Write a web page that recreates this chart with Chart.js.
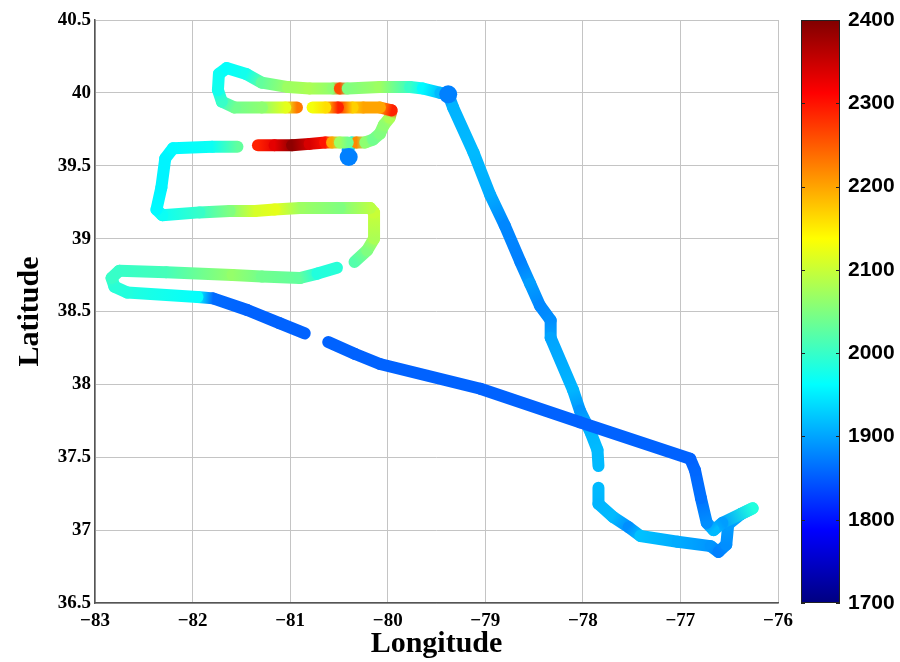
<!DOCTYPE html>
<html>
<head>
<meta charset="utf-8">
<title>Flight track</title>
<script src="https://cdn.jsdelivr.net/npm/chart.js@4.4.0/dist/chart.umd.min.js"></script>
<style>
  html, body { margin: 0; padding: 0; background: #fff; }
  #wrap { width: 900px; height: 662px; }
</style>
</head>
<body>
<div id="wrap"><canvas id="track"></canvas></div>
<script>
// flight track, one entry per waypoint, null = no data
var lon = [
  -80.40, -80.41, -80.37, -80.32, -80.23, -80.15, -80.08, -80.04, -79.98, -79.96,
  -80.08, -80.25, -80.36, -80.51, -80.64, -80.77, null,
  -80.93, -81.05, -81.29, -81.57, -81.70, -81.74, -81.73, -81.65, -81.45, -81.29,
  -81.02, -80.80, -80.56, -80.49, -80.41, -80.08, -79.77, -79.64, -79.46, -79.38,
  -79.33, -79.12, -78.95, -78.80, -78.64, -78.54, -78.44, -78.33, -78.33, -78.10,
  -78.03, -77.92, -77.85, -77.84, null,
  -77.84, -77.84, -77.69, -77.53, -77.41, -77.03, -76.69, -76.61, -76.53, -76.51,
  -76.38, -76.26, -76.57, -76.66, -76.73, -76.79, -76.85, -76.90, -78.03, -79.05,
  -80.08, -80.34, -80.61, null,
  -80.85, -81.11, -81.44, -81.79, -81.95, -82.67, -82.80, -82.83, -82.75, -82.27,
  -81.59, -81.29, -80.90, -80.72, -80.52, null,
  -80.34, -80.21, -80.14, -80.14, -80.18, -80.49, -80.90, -81.16, -81.36, -81.62,
  -81.93, -82.31, -82.37, -82.32, -82.28, -82.20, -81.80, -81.54, null,
  -81.33, -81.16, -80.98, -80.80, -80.64, -80.57, -80.49, -80.41
];
var lat = [
  39.56, 39.61, 39.66, 39.66, 39.66, 39.68, 39.72, 39.78, 39.83, 39.88,
  39.90, 39.90, 39.90, 39.90, 39.90, 39.90, null,
  39.90, 39.90, 39.90, 39.90, 39.94, 40.02, 40.13, 40.17, 40.13, 40.07,
  40.04, 40.03, 40.03, 40.03, 40.03, 40.04, 40.04, 40.03, 40.00, 39.99,
  39.90, 39.59, 39.30, 39.09, 38.84, 38.69, 38.54, 38.44, 38.32, 37.96,
  37.82, 37.67, 37.55, 37.44, null,
  37.29, 37.18, 37.09, 37.02, 36.96, 36.92, 36.89, 36.85, 36.90, 37.04,
  37.11, 37.15, 37.05, 37.00, 37.05, 37.22, 37.41, 37.49, 37.74, 37.97,
  38.14, 38.21, 38.29, null,
  38.35, 38.42, 38.51, 38.59, 38.60, 38.63, 38.67, 38.73, 38.78, 38.77,
  38.75, 38.74, 38.73, 38.76, 38.80, null,
  38.84, 38.92, 39.00, 39.18, 39.21, 39.21, 39.21, 39.20, 39.19, 39.19,
  39.18, 39.16, 39.20, 39.35, 39.55, 39.62, 39.63, 39.63, null,
  39.64, 39.64, 39.64, 39.65, 39.66, 39.66, 39.66, 39.66
];
var ch4 = [
  1880, 1890, 1990, 2220, 2060, 2040, 2050, 2060, 2080, 2290,
  2200, 2200, 2170, 2290, 2160, 2130, null,
  2230, 2120, 2060, 2040, 2000, 1975, 1970, 1965, 1975, 2030,
  2070, 2080, 2060, 2260, 2050, 2070, 2000, 1960, 1915, 1885,
  1910, 1915, 1905, 1880, 1875, 1895, 1880, 1885, 1900, 1912,
  1890, 1912, 1915, 1915, null,
  1915, 1912, 1915, 1885, 1920, 1905, 1890, 1875, 1885, 1895,
  1905, 1985, 1895, 1915, 1885, 1865, 1858, 1855, 1855, 1855,
  1855, 1855, 1855, null,
  1855, 1855, 1855, 1860, 1965, 1985, 1990, 2000, 2000, 2010,
  2065, 2040, 2030, 1985, 1990, null,
  2020, 2050, 2080, 2100, 2090, 2050, 2070, 2120, 2110, 2050,
  2000, 1970, 1960, 1955, 1955, 1960, 1970, 2030, null,
  2290, 2330, 2390, 2340, 2300, 2200, 2070, 2040
];

// large markers at the two ends of the track
var markLon = [-80.40, -79.38];
var markLat = [39.56, 39.99];
var markVal = [1875, 1875];

var lonTicks = [-83, -82, -81, -80, -79, -78, -77, -76];
var latTicks = [36.5, 37, 37.5, 38, 38.5, 39, 39.5, 40, 40.5];
var cbarTicks = [1700, 1800, 1900, 2000, 2100, 2200, 2300, 2400];
var cmin = 1700, cmax = 2400;

// matlab style jet colormap
function jet(v) {
  var t = (v - cmin) / (cmax - cmin);
  t = Math.max(0, Math.min(1, t));
  function c(k) {
    return Math.round(255 * Math.max(0, Math.min(1, 1.5 - Math.abs(4 * t - k))));
  }
  return 'rgb(' + c(3) + ',' + c(2) + ',' + c(1) + ')';
}

function segColor(ctx) {
  var a = ch4[ctx.p0DataIndex], b = ch4[ctx.p1DataIndex];
  var g = ctx.chart.ctx.createLinearGradient(ctx.p0.x, ctx.p0.y, ctx.p1.x + 0.01, ctx.p1.y);
  g.addColorStop(0, jet(a));
  g.addColorStop(1, jet(b));
  return g;
}

var trackData = lon.map(function(x, i) { return { x: x, y: lat[i] }; });
var markData = markLon.map(function(x, i) { return { x: x, y: markLat[i] }; });

var serif = 'Liberation Serif, Times New Roman, serif';

// colorbar drawn in the space of the 'cbar' axis
var colorbar = {
  id: 'colorbar',
  afterDraw: function(chart) {
    var s = chart.scales.cbar;
    var c = chart.ctx;
    var x0 = s.left + 23, w = 39;
    var top = s.top, bot = s.bottom;
    var g = c.createLinearGradient(0, bot, 0, top);
    [0, 1 / 8, 3 / 8, 5 / 8, 7 / 8, 1].forEach(function(f) {
      g.addColorStop(f, jet(cmin + f * (cmax - cmin)));
    });
    c.save();
    c.fillStyle = g;
    c.fillRect(x0, top, w, bot - top);
    c.strokeStyle = '#222';
    c.lineWidth = 1;
    c.strokeRect(x0 + 0.5, top + 0.5, w - 1, bot - top - 1);
    c.beginPath();
    cbarTicks.forEach(function(v) {
      var y = Math.round(s.getPixelForValue(v)) + 0.5;
      c.moveTo(x0, y); c.lineTo(x0 + 4, y);
      c.moveTo(x0 + w - 4, y); c.lineTo(x0 + w, y);
    });
    c.stroke();
    c.restore();
  }
};

new Chart(document.getElementById('track'), {
  type: 'scatter',
  data: {
    datasets: [{
      data: markData,
      yAxisID: 'y',
      order: 0,
      pointRadius: 9,
      pointBorderWidth: 0,
      pointBackgroundColor: markVal.map(jet),
      showLine: false
    }, {
      data: trackData,
      yAxisID: 'y',
      order: 1,
      showLine: true,
      spanGaps: false,
      pointRadius: 0,
      borderWidth: 12,
      borderColor: '#00ffff',
      borderCapStyle: 'round',
      borderJoinStyle: 'round',
      segment: { borderColor: segColor }
    }]
  },
  options: {
    responsive: true,
    maintainAspectRatio: false,
    animation: false,
    layout: { padding: { top: 20, left: 0, right: 0, bottom: 0 } },
    plugins: { legend: { display: false }, tooltip: { enabled: false } },
    scales: {
      x: {
        type: 'linear',
        min: -83, max: -76,
        afterBuildTicks: function(s) { s.ticks = lonTicks.map(function(v) { return { value: v }; }); },
        afterFit: function(s) { s.height = 59; },
        ticks: {
          color: '#000',
          padding: 7,
          maxRotation: 0,
          font: { family: serif, weight: 'bold', size: 19 },
          callback: function(v) { return String(v).replace('-', '\u2212'); }
        },
        grid: { color: '#c4c4c4', lineWidth: 1, drawTicks: false },
        border: { color: '#555', width: 1.5 },
        title: {
          display: true, text: 'Longitude', color: '#000', padding: 0,
          font: { family: serif, weight: 'bold', size: 30 }
        }
      },
      y: {
        type: 'linear',
        min: 36.5, max: 40.5,
        afterBuildTicks: function(s) { s.ticks = latTicks.map(function(v) { return { value: v }; }); },
        afterFit: function(s) { s.width = 95; },
        ticks: {
          color: '#000',
          padding: 4,
          font: { family: serif, weight: 'bold', size: 19 },
          callback: function(v) { return String(v); }
        },
        grid: { color: '#c4c4c4', lineWidth: 1, drawTicks: false },
        border: { color: '#555', width: 1.5 },
        title: {
          display: true, text: 'Latitude', color: '#000', padding: 12,
          font: { family: serif, weight: 'bold', size: 30 }
        }
      },
      cbar: {
        type: 'linear',
        position: 'right',
        min: cmin, max: cmax,
        afterBuildTicks: function(s) { s.ticks = cbarTicks.map(function(v) { return { value: v }; }); },
        afterFit: function(s) { s.width = 122; },
        ticks: {
          color: '#000',
          padding: 2,
          font: { family: 'Liberation Sans, Arial, sans-serif', weight: 'bold', size: 21 },
          callback: function(v) { return String(v); }
        },
        // tick marks are hidden, their length only pushes the labels past the bar
        grid: { display: false, drawTicks: true, tickLength: 68 },
        border: { display: false }
      }
    }
  },
  plugins: [colorbar]
});
</script>
</body>
</html>
